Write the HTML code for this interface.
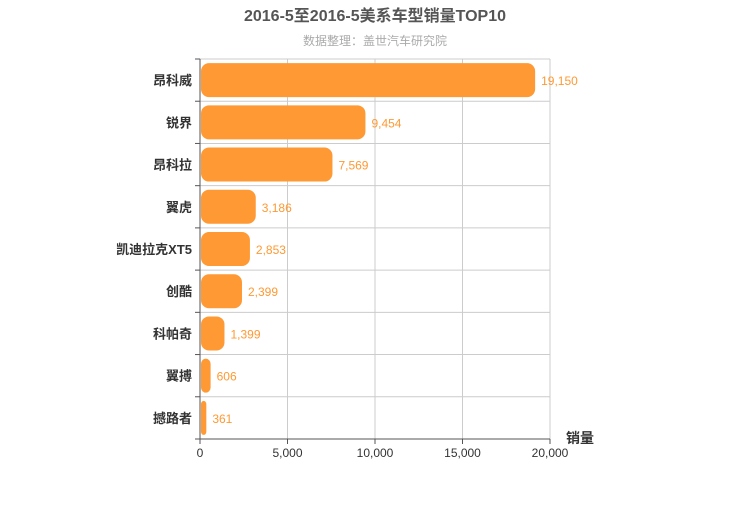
<!DOCTYPE html>
<html><head><meta charset="utf-8"><style>
body{margin:0;background:#fff;}
svg text{font-family:"Liberation Sans","Noto Sans CJK SC",sans-serif;}
</style></head><body>
<svg id="c" width="750" height="500">
<text x="375" y="21" text-anchor="middle" font-size="16" font-weight="bold" fill="#555">2016-5至2016-5美系车型销量TOP10</text>
<text x="375" y="45" text-anchor="middle" font-size="12" fill="#aaa">数据整理：盖世汽车研究院</text>
<g id="plot"></g>
<text x="580" y="443" text-anchor="middle" font-size="14" font-weight="bold" fill="#333">销量</text>
</svg>
<script>
const categories=["昂科威","锐界","昂科拉","翼虎","凯迪拉克XT5","创酷","科帕奇","翼搏","撼路者"];
const values=[19150,9454,7569,3186,2853,2399,1399,606,361];
const ticks=[0,5000,10000,15000,20000];
const NS="http://www.w3.org/2000/svg";
const g=document.getElementById("plot");
const x0=200,x1=550,y0=59,y1=439,max=20000;
const xs=v=>x0+(v/max)*(x1-x0);
const bandH=(y1-y0)/categories.length;
function mk(t,a){const e=document.createElementNS(NS,t);for(const k in a)e.setAttribute(k,a[k]);g.appendChild(e);return e;}
const fmt=v=>v.toLocaleString("en-US");
ticks.forEach(t=>{
 const l=mk("line",{x1:xs(t),x2:xs(t),y1:y0,y2:y1,stroke:"#ccc"});
 
 
 mk("line",{x1:xs(t),x2:xs(t),y1:y1,y2:y1+5,stroke:"#555"});
 const tx=mk("text",{x:xs(t),y:y1+18,"text-anchor":"middle","font-size":12,fill:"#333"});
 tx.textContent=fmt(t);
 
 
});
for(let i=0;i<=categories.length;i++){
 const y=y0+i*bandH;
 if(i<categories.length) mk("line",{x1:x0,x2:x1,y1:y,y2:y,stroke:"#ccc"});
 mk("line",{x1:x0-5,x2:x0,y1:y,y2:y,stroke:"#555"});
}
mk("line",{x1:x0,x2:x0,y1:y0,y2:y1,stroke:"#555"});
mk("line",{x1:x0,x2:x1,y1:y1,y2:y1,stroke:"#555"});
categories.forEach((c,i)=>{
 const cy=y0+(i+0.5)*bandH;
 const w=xs(values[i])-x0;
 const r=mk("rect",{x:x0+1,y:cy-17,width:Math.max(w-1,0),height:34,rx:Math.min(8,w/2),fill:"#ff9933"});
 
 
 const lb=mk("text",{x:x0-8,y:cy+5,"text-anchor":"end","font-size":13,"font-weight":"bold",fill:"#333"});
 lb.textContent=c;
 
 
 const vl=mk("text",{x:xs(values[i])+6,y:cy+5,"font-size":12,fill:"#ff9933"});
 vl.textContent=fmt(values[i]);
 
 
});
</script>
</body></html>
